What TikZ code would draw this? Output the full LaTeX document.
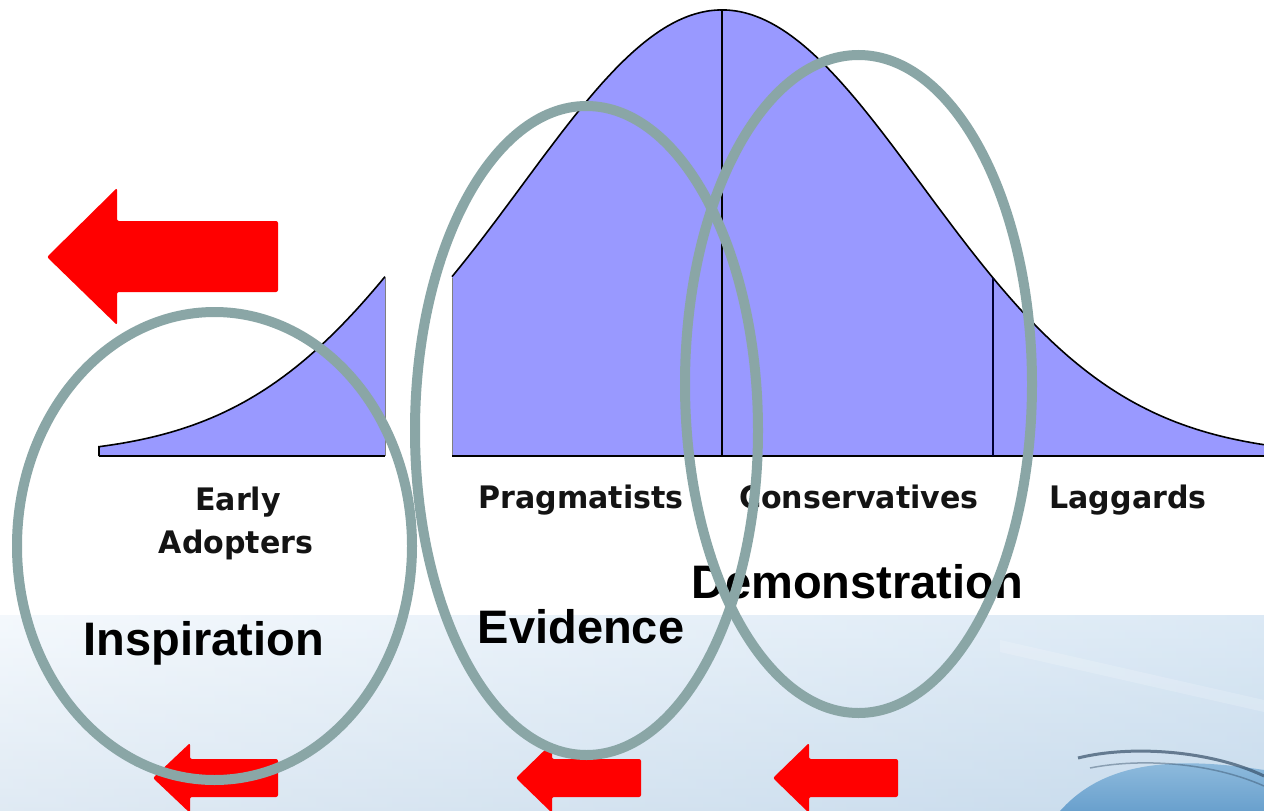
\documentclass[tikz,border=0pt]{standalone}
\usepackage{fontspec}
\setmainfont{Liberation Sans}
\newfontfamily\labfont[FakeStretch=0.97]{DejaVu Sans}
\usetikzlibrary{shapes.geometric}
\definecolor{bellfill}{RGB}{153,153,255}
\definecolor{ringcol}{RGB}{138,166,166}
\definecolor{arrowred}{RGB}{255,0,0}
\definecolor{bandtop}{RGB}{240,246,252}
\definecolor{bandbot}{RGB}{210,225,239}
\definecolor{bandright}{RGB}{175,205,230}
\definecolor{swooshA}{RGB}{150,192,224}
\definecolor{swooshB}{RGB}{105,160,205}
\definecolor{swooshdark}{RGB}{55,80,105}
\tikzset{
  bellarea/.style={fill=bellfill, draw=none},
  bellline/.style={draw=black, line width=1.6pt},
  belledge/.style={draw=gray, line width=1pt},
  ring/.style={draw=ringcol, line width=10pt, ellipse, inner sep=0pt, fill=none},
  redarrow/.style={fill=arrowred, rounded corners=2pt},
  grouplabel/.style={font={\labfont\bfseries\fontsize{31}{37}\selectfont}, text=black!92, anchor=base, inner sep=0pt},
  bigword/.style={font={\bfseries\fontsize{47}{56}\selectfont}, text=black, anchor=base, inner sep=0pt}
}
\begin{document}
\begin{tikzpicture}[x=1pt,y=-1pt]
\useasboundingbox (0,0) rectangle (1264,811);
\fill[white] (0,0) rectangle (1264,811);
% background band
\shade[top color=bandtop, bottom color=bandbot] (0,615) rectangle (1264,811);
\shade[left color=white, right color=bandright, opacity=0.3] (0,615) rectangle (1264,811);
% light streak
\fill[white, opacity=0.18] (1000,640) -- (1264,700) -- (1264,712) -- (1000,652) -- cycle;
% swoosh
\shade[top color=swooshA, bottom color=swooshB] (1060,811) .. controls (1095,772) and (1150,752) .. (1264,770) -- (1264,811) -- cycle;
\draw[swooshdark, line width=3pt, opacity=0.7] (1078,758) .. controls (1130,745) and (1210,750) .. (1264,776);
\draw[swooshdark, line width=1.5pt, opacity=0.45] (1090,768) .. controls (1140,758) and (1210,762) .. (1264,786);
% bell curve: left piece
\fill[bellarea] (99,456) -- plot[domain=99:385, samples=120] (\x,{456-446*exp(-0.5*((\x-655)/200)*((\x-655)/200))}) -- (385,456) -- cycle;
\draw[bellline] (99,456) -- plot[domain=99:385, samples=120] (\x,{456-446*exp(-0.5*((\x-655)/200)*((\x-655)/200))});
\draw[belledge] (385,277) -- (385,456);
\draw[bellline] (99,456) -- (385,456);
% bell curve: main piece
\fill[bellarea] (452,456) -- plot[domain=452:1264, samples=250] (\x,{456-446*exp(-0.5*((\x-722)/200)*((\x-722)/200))}) -- (1264,456) -- cycle;
\draw[bellline] plot[domain=452:1264, samples=250] (\x,{456-446*exp(-0.5*((\x-722)/200)*((\x-722)/200))});
\draw[belledge] (452,278) -- (452,456);
\draw[bellline] (452,456) -- (1264,456);
\draw[bellline] (722,10) -- (722,456);
\draw[line width=1.6pt, draw=black!80!blue] (993,278) -- (993,456);
% group labels
\node[grouplabel] (early) at (238,510) {Early};
\node[grouplabel] (adopters) at (236,553) {Adopters};
\node[grouplabel] (prag) at (581,508) {Pragmatists};
\node[grouplabel] (cons) at (859,508) {Conservatives};
\node[grouplabel] (lagg) at (1128,508) {Laggards};
% red arrows
\fill[redarrow] (47,257) -- (117,188) -- (117,221) -- (278,221) -- (278,292) -- (117,292) -- (117,325) -- cycle;
\fill[redarrow] (153,778) -- (190,743) -- (190,759) -- (278,759) -- (278,797) -- (190,797) -- (190,813) -- cycle;
\fill[redarrow] (516,778) -- (552,743) -- (552,759) -- (641,759) -- (641,797) -- (552,797) -- (552,813) -- cycle;
\fill[redarrow] (773,778) -- (809,743) -- (809,759) -- (898,759) -- (898,797) -- (809,797) -- (809,813) -- cycle;
% big words
\node[bigword] (insp) at (204,655) {Inspiration};
\node[bigword] (evid) at (581,643) {Evidence};
\node[bigword] (demo) at (857,598) {Demonstration};
% rings
\node[ring, minimum width=395pt, minimum height=468pt] (ringinsp) at (214.5,546) {};
\node[ring, minimum width=343pt, minimum height=649pt] (ringevid) at (586.5,430.5) {};
\node[ring, minimum width=347pt, minimum height=658pt] (ringdemo) at (858.5,384) {};
\end{tikzpicture}
\end{document}
